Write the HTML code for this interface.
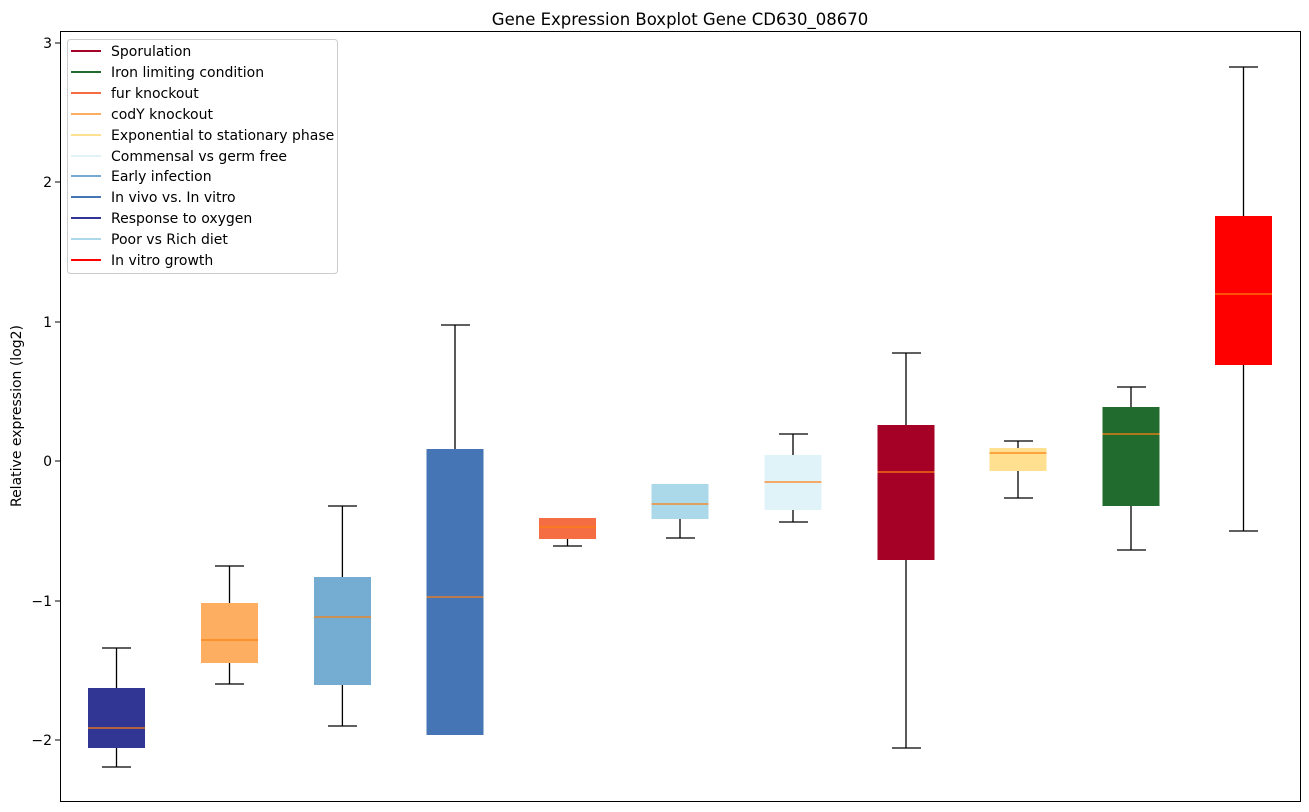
<!DOCTYPE html>
<html><head><meta charset="utf-8"><style>
body{margin:0;background:#fff;}
svg{display:block;font-family:"DejaVu Sans","Liberation Sans",sans-serif;}
</style></head><body>
<svg width="1309" height="812" viewBox="0 0 1309 812" xmlns="http://www.w3.org/2000/svg">
<rect width="1309" height="812" fill="#fff"/>
<text x="680" y="25" font-size="16.5" text-anchor="middle" fill="#000">Gene Expression Boxplot Gene CD630_08670</text>
<g font-size="14" text-anchor="end" fill="#000">
<text x="52" y="48">3</text><text x="52" y="187">2</text><text x="52" y="327">1</text>
<text x="52" y="466">0</text><text x="52" y="606">−1</text><text x="52" y="745">−2</text>
</g>
<g stroke="#000" stroke-width="1">
<line x1="55" y1="43" x2="60" y2="43"/><line x1="55" y1="182" x2="60" y2="182"/><line x1="55" y1="322" x2="60" y2="322"/>
<line x1="55" y1="461" x2="60" y2="461"/><line x1="55" y1="601" x2="60" y2="601"/><line x1="55" y1="740" x2="60" y2="740"/>
</g>
<text transform="translate(21,416) rotate(-90)" font-size="14" text-anchor="middle" fill="#000">Relative expression (log2)</text>
<g id="boxes" stroke-width="1.3">
<g>
<line x1="116.5" y1="648" x2="116.5" y2="767" stroke="#000"/><line x1="102" y1="648" x2="131" y2="648" stroke="#000"/><line x1="102" y1="767" x2="131" y2="767" stroke="#000"/>
<rect x="88" y="688" width="57" height="60" fill="#313695"/><line x1="88" y1="728" x2="145" y2="728" stroke="#ff7f0e"/>
</g>
<g>
<line x1="229.5" y1="566" x2="229.5" y2="684" stroke="#000"/><line x1="215" y1="566" x2="244" y2="566" stroke="#000"/><line x1="215" y1="684" x2="244" y2="684" stroke="#000"/>
<rect x="201" y="603" width="57" height="60" fill="#fdae61"/><line x1="201" y1="640" x2="258" y2="640" stroke="#ff7f0e"/>
</g>
<g>
<line x1="342.4" y1="506" x2="342.4" y2="726" stroke="#000"/><line x1="328" y1="506" x2="357" y2="506" stroke="#000"/><line x1="328" y1="726" x2="357" y2="726" stroke="#000"/>
<rect x="314" y="577" width="57" height="108" fill="#74add1"/><line x1="314" y1="617" x2="371" y2="617" stroke="#ff7f0e"/>
</g>
<g>
<line x1="455" y1="325" x2="455" y2="734" stroke="#000"/><line x1="441" y1="325" x2="470" y2="325" stroke="#000"/>
<rect x="426.5" y="449" width="57" height="286" fill="#4575b4"/><line x1="426.5" y1="597" x2="483.5" y2="597" stroke="#ff7f0e"/>
</g>
<g>
<line x1="567.5" y1="518" x2="567.5" y2="546" stroke="#000"/><line x1="553" y1="546" x2="582" y2="546" stroke="#000"/>
<rect x="539" y="518" width="57" height="21" fill="#f46d43"/><line x1="539" y1="527" x2="596" y2="527" stroke="#ff7f0e"/>
</g>
<g>
<line x1="680" y1="484" x2="680" y2="538" stroke="#000"/><line x1="666" y1="538" x2="695" y2="538" stroke="#000"/>
<rect x="651.5" y="484" width="57" height="35" fill="#abd9e9"/><line x1="651.5" y1="504" x2="708.5" y2="504" stroke="#ff7f0e"/>
</g>
<g>
<line x1="793" y1="434" x2="793" y2="522" stroke="#000"/><line x1="779" y1="434" x2="808" y2="434" stroke="#000"/><line x1="779" y1="522" x2="808" y2="522" stroke="#000"/>
<rect x="764.5" y="455" width="57" height="55" fill="#e0f3f8"/><line x1="764.5" y1="482" x2="821.5" y2="482" stroke="#ff7f0e"/>
</g>
<g>
<line x1="906" y1="353" x2="906" y2="748" stroke="#000"/><line x1="892" y1="353" x2="921" y2="353" stroke="#000"/><line x1="892" y1="748" x2="921" y2="748" stroke="#000"/>
<rect x="877.5" y="425" width="57" height="135" fill="#a50026"/><line x1="877.5" y1="472" x2="934.5" y2="472" stroke="#ff7f0e"/>
</g>
<g>
<line x1="1018" y1="441" x2="1018" y2="498" stroke="#000"/><line x1="1004" y1="441" x2="1033" y2="441" stroke="#000"/><line x1="1004" y1="498" x2="1033" y2="498" stroke="#000"/>
<rect x="989.5" y="448" width="57" height="23" fill="#fee090"/><line x1="989.5" y1="453" x2="1046.5" y2="453" stroke="#ff7f0e"/>
</g>
<g>
<line x1="1131" y1="387" x2="1131" y2="550" stroke="#000"/><line x1="1117" y1="387" x2="1146" y2="387" stroke="#000"/><line x1="1117" y1="550" x2="1146" y2="550" stroke="#000"/>
<rect x="1102.5" y="407" width="57" height="99" fill="#226b2e"/><line x1="1102.5" y1="434" x2="1159.5" y2="434" stroke="#ff7f0e"/>
</g>
<g>
<line x1="1243.5" y1="67" x2="1243.5" y2="531" stroke="#000"/><line x1="1229" y1="67" x2="1258" y2="67" stroke="#000"/><line x1="1229" y1="531" x2="1258" y2="531" stroke="#000"/>
<rect x="1215" y="216" width="57" height="149" fill="#ff0000"/><line x1="1215" y1="294" x2="1272" y2="294" stroke="#ff7f0e"/>
</g>
</g>
<rect x="60.5" y="31.5" width="1240" height="770" fill="none" stroke="#000" stroke-width="1"/>
<rect x="67.5" y="39.5" width="270" height="234" rx="3" fill="#fff" fill-opacity="0.8" stroke="#ccc"/>
<g font-size="14" fill="#000" stroke-width="2">
<line x1="71" y1="51" x2="101" y2="51" stroke="#a50026"/><text x="111" y="56">Sporulation</text>
<line x1="71" y1="72" x2="101" y2="72" stroke="#226b2e"/><text x="111" y="77">Iron limiting condition</text>
<line x1="71" y1="93" x2="101" y2="93" stroke="#f46d43"/><text x="111" y="98">fur knockout</text>
<line x1="71" y1="114" x2="101" y2="114" stroke="#fdae61"/><text x="111" y="119">codY knockout</text>
<line x1="71" y1="135" x2="101" y2="135" stroke="#fee090"/><text x="111" y="140">Exponential to stationary phase</text>
<line x1="71" y1="156" x2="101" y2="156" stroke="#e0f3f8"/><text x="111" y="161">Commensal vs germ free</text>
<line x1="71" y1="176" x2="101" y2="176" stroke="#74add1"/><text x="111" y="181">Early infection</text>
<line x1="71" y1="197" x2="101" y2="197" stroke="#4575b4"/><text x="111" y="202">In vivo vs. In vitro</text>
<line x1="71" y1="218" x2="101" y2="218" stroke="#313695"/><text x="111" y="223">Response to oxygen</text>
<line x1="71" y1="239" x2="101" y2="239" stroke="#abd9e9"/><text x="111" y="244">Poor vs Rich diet</text>
<line x1="71" y1="260" x2="101" y2="260" stroke="#ff0000"/><text x="111" y="265">In vitro growth</text>
</g>
</svg>
</body></html>
